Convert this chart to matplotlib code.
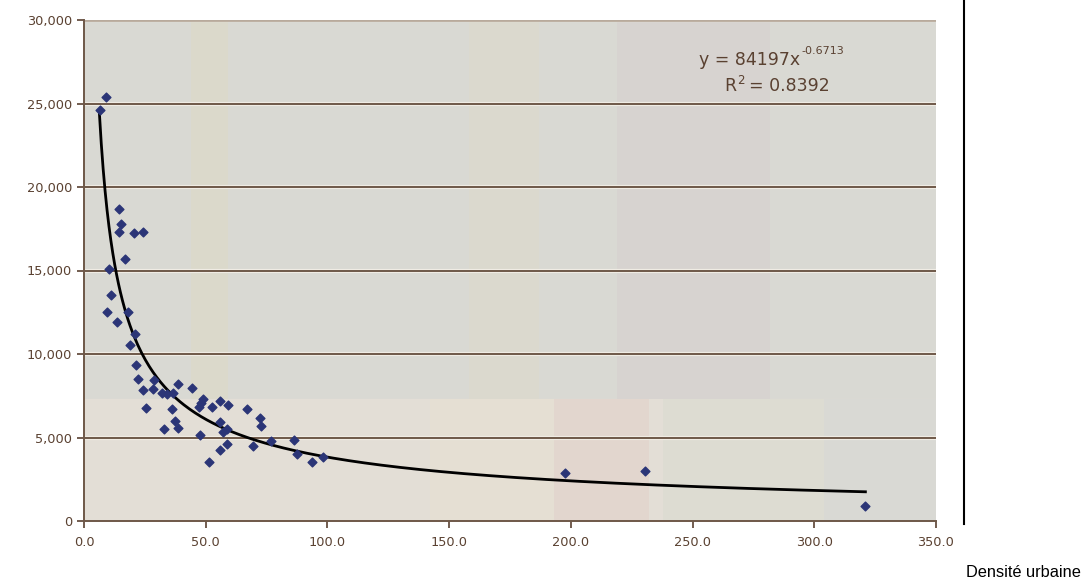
import matplotlib
matplotlib.use("Agg")
import matplotlib.pyplot as plt
from matplotlib.lines import Line2D
import numpy as np

# densite urbaine vs consommation
density = [6.6, 8.9, 14.5, 15.1, 14.2, 20.5, 24.3, 17.0, 10.4, 10.9,
           9.3, 13.7, 18.2, 21.1, 18.9, 21.5, 22.2, 24.4, 25.6, 28.7,
           28.5, 31.9, 33.9, 36.7, 38.5, 44.2, 36.0, 32.8, 37.4, 38.5,
           49.0, 47.9, 47.3, 55.8, 59.0, 52.4, 47.6, 51.4, 55.8, 57.2,
           58.8, 58.8, 55.8, 67.0, 72.2, 72.6, 69.5, 77.0, 86.2, 87.7,
           93.7, 98.0, 197.7, 230.6, 321.0]
consumption = [24640, 25380, 18680, 17780, 17280, 17220, 17320, 15670, 15070, 13550,
               12540, 11940, 12510, 11190, 10540, 9330, 8490, 7830, 6785, 8440,
               7930, 7640, 7580, 7690, 8190, 7950, 6725, 5520, 5980, 5580,
               7280, 7040, 6845, 7180, 6965, 6820, 5120, 3515, 5920, 5320,
               5480, 4620, 4280, 6680, 6140, 5680, 4520, 4820, 4840, 4020,
               3515, 3840, 2880, 3020, 870]

# power trendline shown on the chart
coef_a = 84197
coef_b = -0.6713
r2 = 0.8392

xticks = [0, 50, 100, 150, 200, 250, 300, 350]
yticks = [0, 5000, 10000, 15000, 20000, 25000, 30000]

brown = "#5a4131"
grid_c = "#6e5848"

fig = plt.figure(figsize=(10.86, 5.82), dpi=100)
ax = fig.add_axes([84 / 1086, 1 - 521 / 582, (936 - 84) / 1086, (521 - 20) / 582])

# background: grey top, warm bottom, with faint vertical bands
ax.set_facecolor("#d9d9d3")
ax.axhspan(0, 7280, color="#e3ded6", zorder=0)
ax.axvspan(44, 59, ymin=7280 / 30000, color="#dbd9cb", zorder=0, lw=0)
ax.axvspan(158, 187, ymin=7280 / 30000, color="#dbd9ce", zorder=0, lw=0)
ax.axvspan(219, 282, ymin=7280 / 30000, color="#d7d3d0", zorder=0, lw=0)
ax.axvspan(142, 193, ymax=7280 / 30000, color="#e5dfd3", zorder=0, lw=0)
ax.axvspan(193, 232, ymax=7280 / 30000, color="#e2d6ce", zorder=0, lw=0)
ax.axvspan(238, 304, ymax=7280 / 30000, color="#dddcd2", zorder=0, lw=0)
ax.axvspan(304, 350, ymax=7280 / 30000, color="#d9d9d4", zorder=0, lw=0)

for v in yticks[1:]:
    ax.axhline(v, color="#f0ece4", lw=3, zorder=1)
    ax.axhline(v, color=grid_c, lw=1.4, zorder=1)

xs = np.linspace(min(density) - 0.3, max(density), 400)
ax.plot(xs, coef_a * xs ** coef_b, color="black", lw=2, zorder=2)
ax.scatter(density, consumption, marker="D", s=20, color="#2b3577", zorder=3)

ax.set_xlim(0, 350)
ax.set_ylim(0, 30000)
ax.set_xticks(xticks)
ax.set_yticks(yticks)
ax.set_xticklabels([f"{v:.1f}" for v in xticks])
ax.set_yticklabels([f"{v:,}" for v in yticks])
ax.tick_params(colors=brown, labelsize=9.3, length=5, width=1.2, direction="out")
ax.tick_params(axis="x", pad=6)
for s in ax.spines.values():
    s.set_visible(False)
ax.spines["left"].set_visible(True)
ax.spines["bottom"].set_visible(True)
ax.spines["left"].set_color(grid_c)
ax.spines["bottom"].set_color(grid_c)
ax.spines["left"].set_linewidth(1.4)
ax.spines["bottom"].set_linewidth(1.4)
ax.axhline(30000, color="#b8aa9c", lw=2, zorder=1)

# equation label: base text, then a smaller raised exponent right after it
def with_sup(x, y, base, sup, size=12.5, sup_size=8.5, rise=6):
    t = fig.text(x / 1086, 1 - y / 582, base, ha="left", va="center",
                 color=brown, fontsize=size)
    fig.canvas.draw()
    bb = t.get_window_extent()
    s = fig.text(bb.x1 / 1086 + 1 / 1086, 1 - (y - rise) / 582, sup, ha="left",
                 va="center", color=brown, fontsize=sup_size)
    return t, s

with_sup(699, 60, f"y = {coef_a}x", f"{coef_b}", rise=9, sup_size=8)
r_txt, r_sup = with_sup(724, 86, "R", "2", rise=6, sup_size=8.5)
fig.canvas.draw()
bb = r_sup.get_window_extent()
fig.text(bb.x1 / 1086 + 4 / 1086, 1 - 86 / 582, f"= {r2}", ha="left", va="center",
         color=brown, fontsize=12.5)

fig.add_artist(Line2D([964 / 1086, 964 / 1086], [1, 1 - 524 / 582],
                      transform=fig.transFigure, color="black", lw=1.5))
fig.text(966 / 1086, 1 - 577 / 582, "Densité urbaine", fontsize=11.8,
         family="Liberation Sans", color="black", ha="left", va="baseline")

fig.savefig("out.png", dpi=100)
